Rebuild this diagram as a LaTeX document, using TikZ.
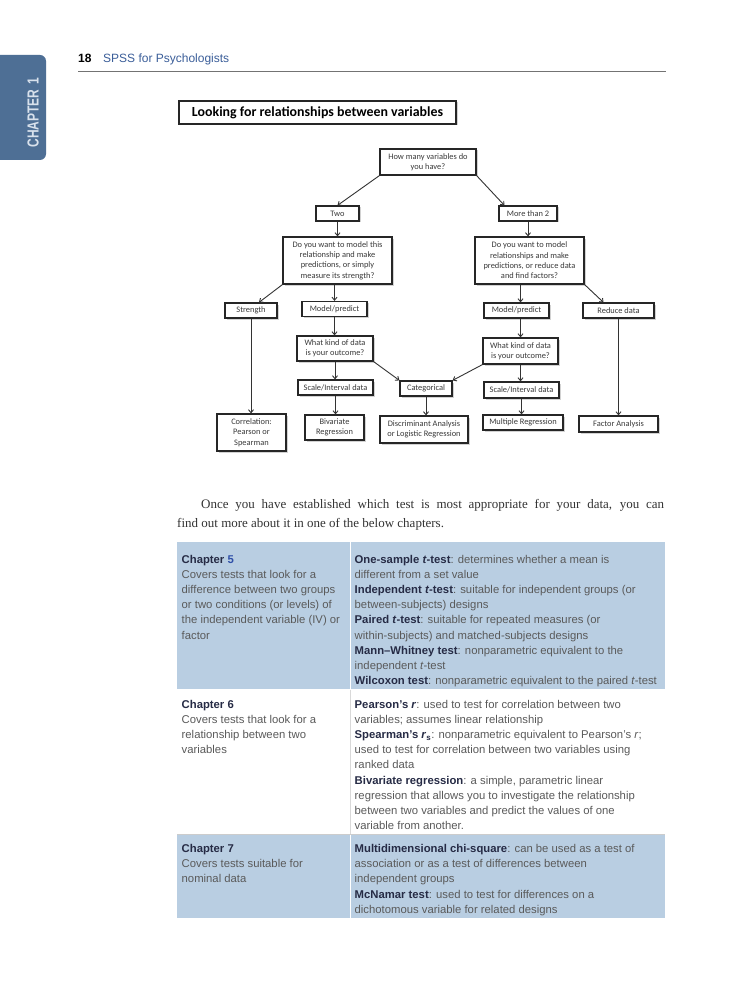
\documentclass[tikz,border=0pt]{standalone}
\usepackage{fontspec}
\setmainfont{Liberation Serif}
\setsansfont{Liberation Sans}
\newfontfamily\calfont{Carlito}
\usetikzlibrary{shadows,arrows.meta,calc}
\definecolor{tabblue}{HTML}{4E6F95}
\definecolor{tabtext}{HTML}{D8E1EC}
\definecolor{hdrblue}{HTML}{3B5E99}
\definecolor{rowblue}{HTML}{B9CEE2}
\definecolor{termcol}{HTML}{262B45}
\definecolor{bodycol}{HTML}{5A5A5A}
\definecolor{chapblue}{HTML}{2F4FA8}
\definecolor{boxtext}{HTML}{3A3A3A}
\definecolor{paratext}{HTML}{333333}
\newcommand{\term}[1]{\textbf{\color{termcol}#1}}
\begin{document}
\begin{tikzpicture}[x=1pt,y=-1pt,
  fbox/.style={draw=black!85, line width=1.2pt, fill=white, inner sep=1pt, align=center,
    font=\calfont\fontsize{8.4}{10.3}\selectfont, text=boxtext,
    drop shadow={shadow xshift=1.5pt,shadow yshift=-1.5pt,opacity=0.35}},
  arr/.style={draw=black!80, line width=0.9pt, -{Straight Barb[length=3pt,width=5pt]}},
  cell/.style={anchor=north west, inner sep=0pt, align=left,
    font=\sffamily\fontsize{11.3}{15.2}\selectfont, text=bodycol},
]
\useasboundingbox (0,0) rectangle (742,1000);
\fill[white] (0,0) rectangle (742,1000);

% chapter tab
\begin{scope}
\clip (0,0) rectangle (742,1000);
\fill[tabblue, rounded corners=6pt] (-10,55) rectangle (46,160);
\end{scope}
\node[rotate=90, text=tabtext, inner sep=0pt] (tab) at (33,112.5)
  {\scalebox{0.75}[1]{\sffamily\bfseries\fontsize{16}{16}\selectfont CHAPTER\hspace{7pt}1}};

% header
\node[anchor=base west, inner sep=0pt, font=\sffamily\bfseries\fontsize{12}{14}\selectfont] (pg) at (78,62.5) {18};
\node[anchor=base west, inner sep=0pt, text=hdrblue, font=\sffamily\fontsize{12}{14}\selectfont] (hdr) at (103,62.5) {SPSS for Psychologists};
\draw[black!55, line width=0.8pt] (78,71) -- (666,71);

% title
\node[fbox, font=\calfont\bfseries\fontsize{13.9}{15}\selectfont, text=black,
  minimum width=277pt, minimum height=23pt] (title) at (317.5,112.5) {Looking for relationships between variables};

% flowchart
\node[fbox, minimum width=96pt, minimum height=26pt] (q0) at (428,162) {How many variables do\\you have?};
\node[fbox, minimum width=43pt, minimum height=15pt] (two) at (337.5,213.5) {Two};
\node[fbox, minimum width=58pt, minimum height=15pt] (more) at (528,213.5) {More than 2};
\node[fbox, minimum width=109pt, minimum height=47pt] (qL) at (337.5,260.5) {Do you want to model this\\relationship and make\\predictions, or simply\\measure its strength?};
\node[fbox, minimum width=109pt, minimum height=47pt] (qR) at (529.5,260.5) {Do you want to model\\relationships and make\\predictions, or reduce data\\and find factors?};
\node[fbox, minimum width=52pt, minimum height=15pt] (str) at (251,310.5) {Strength};
\node[fbox, minimum width=65pt, minimum height=15pt] (mpL) at (334.5,309) {Model/predict};
\node[fbox, minimum width=65pt, minimum height=15pt] (mpR) at (516.5,310.5) {Model/predict};
\node[fbox, minimum width=71pt, minimum height=15pt] (red) at (618.5,310.5) {Reduce data};
\node[fbox, minimum width=76pt, minimum height=25pt] (wkL) at (335,348.5) {What kind of data\\is your outcome?};
\node[fbox, minimum width=75pt, minimum height=26pt] (wkR) at (520.5,351) {What kind of data\\is your outcome?};
\node[fbox, minimum width=75pt, minimum height=15pt] (siL) at (335.5,387.5) {Scale/Interval data};
\node[fbox, minimum width=52pt, minimum height=15pt] (cat) at (426,388.5) {Categorical};
\node[fbox, minimum width=75pt, minimum height=16pt] (siR) at (521.5,390) {Scale/Interval data};
\node[fbox, minimum width=69pt, minimum height=37pt] (corr) at (251.5,432.5) {Correlation:\\Pearson or\\Spearman};
\node[fbox, minimum width=59pt, minimum height=25pt] (biv) at (334.5,427.5) {Bivariate\\Regression};
\node[fbox, minimum width=88pt, minimum height=27pt] (disc) at (424,429.5) {Discriminant Analysis\\or Logistic Regression};
\node[fbox, minimum width=80pt, minimum height=15pt] (mult) at (523,422.5) {Multiple Regression};
\node[fbox, minimum width=79pt, minimum height=16pt] (fac) at (618.5,424) {Factor Analysis};

\draw[arr] (q0.south west) -- (two.north);
\draw[arr] (q0.south east) -- ([xshift=6pt]more.north west);
\draw[arr] (two.south) -- (two.south |- qL.north);
\draw[arr] (more.south) -- (more.south |- qR.north);
\draw[arr] (qL.south west) -- ([xshift=8pt]str.north);
\draw[arr] (mpL.north |- qL.south) -- (mpL.north);
\draw[arr] (wkR.north |- qR.south) -- (wkR.north |- mpR.north);
\draw[arr] (qR.south east) -- ([xshift=-15pt]red.north);
\draw[arr] (str.south) -- (str.south |- corr.north);
\draw[arr] (mpL.south) -- (mpL.south |- wkL.north);
\draw[arr] (wkR.north |- mpR.south) -- (wkR.north);
\draw[arr] (red.south) -- (red.south |- fac.north);
\draw[arr] (wkL.south) -- (wkL.south |- siL.north);
\draw[arr] (wkL.south east) -- (cat.north west);
\draw[arr] (wkR.south west) -- (cat.north east);
\draw[arr] (wkR.south) -- (wkR.south |- siR.north);
\draw[arr] (siL.south) -- (siL.south |- biv.north);
\draw[arr] (cat.south) -- (cat.south |- disc.north);
\draw[arr] (siR.south) -- (siR.south |- mult.north);

% paragraph
\node[anchor=base west, inner sep=0pt, text=paratext, font=\fontsize{13}{18}\selectfont] (p1) at (201,508.5)
  {\makebox[463pt][s]{Once you have established which test is most appropriate for your data, you can}};
\node[anchor=base west, inner sep=0pt, text=paratext, font=\fontsize{13}{18}\selectfont] (p2) at (177,527)
  {find out more about it in one of the below chapters.};

% table
\fill[rowblue] (177,542) rectangle (665,689.5);
\fill[rowblue] (177,834.5) rectangle (665,918);
\draw[white, line width=1pt] (350,542) -- (350,689.5);
\draw[white, line width=1pt] (350,834.5) -- (350,918);
\draw[black!15, line width=0.8pt] (350,689.5) -- (350,834.5);
\draw[black!20, line width=1pt] (177,834) -- (665,834);
\draw[white, line width=1pt] (177,689.5) -- (665,689.5);

\node[cell] (c1a) at (181.5,554.8) {\term{Chapter \textcolor{chapblue}{5}}\\Covers tests that look for a\\difference between two groups\\or two conditions (or levels) of\\the independent variable (IV) or\\factor};
\node[cell] (c1b) at (354.5,554.8) {\term{One-sample \textit{t}-test}: determines whether a mean is\\different from a set value\\\term{Independent \textit{t}-test}: suitable for independent groups (or\\between-subjects) designs\\\term{Paired \textit{t}-test}: suitable for repeated measures (or\\within-subjects) and matched-subjects designs\\\term{Mann–Whitney test}: nonparametric equivalent to the\\independent \textit{t}-test\\\term{Wilcoxon test}: nonparametric equivalent to the paired \textit{t}-test};
\node[cell] (c2a) at (181.5,699.8) {\term{Chapter 6}\\Covers tests that look for a\\relationship between two\\variables};
\node[cell] (c2b) at (354.5,699.8) {\term{Pearson’s \textit{r}}: used to test for correlation between two\\variables; assumes linear relationship\\\term{Spearman’s \textit{r}\textsubscript{s}}: nonparametric equivalent to Pearson’s \textit{r};\\used to test for correlation between two variables using\\ranked data\\\term{Bivariate regression}: a simple, parametric linear\\regression that allows you to investigate the relationship\\between two variables and predict the values of one\\variable from another.};
\node[cell] (c3a) at (181.5,844.2) {\term{Chapter 7}\\Covers tests suitable for\\nominal data};
\node[cell] (c3b) at (354.5,844.2) {\term{Multidimensional chi-square}: can be used as a test of\\association or as a test of differences between\\independent groups\\\term{McNamar test}: used to test for differences on a\\dichotomous variable for related designs};
\end{tikzpicture}
\end{document}
